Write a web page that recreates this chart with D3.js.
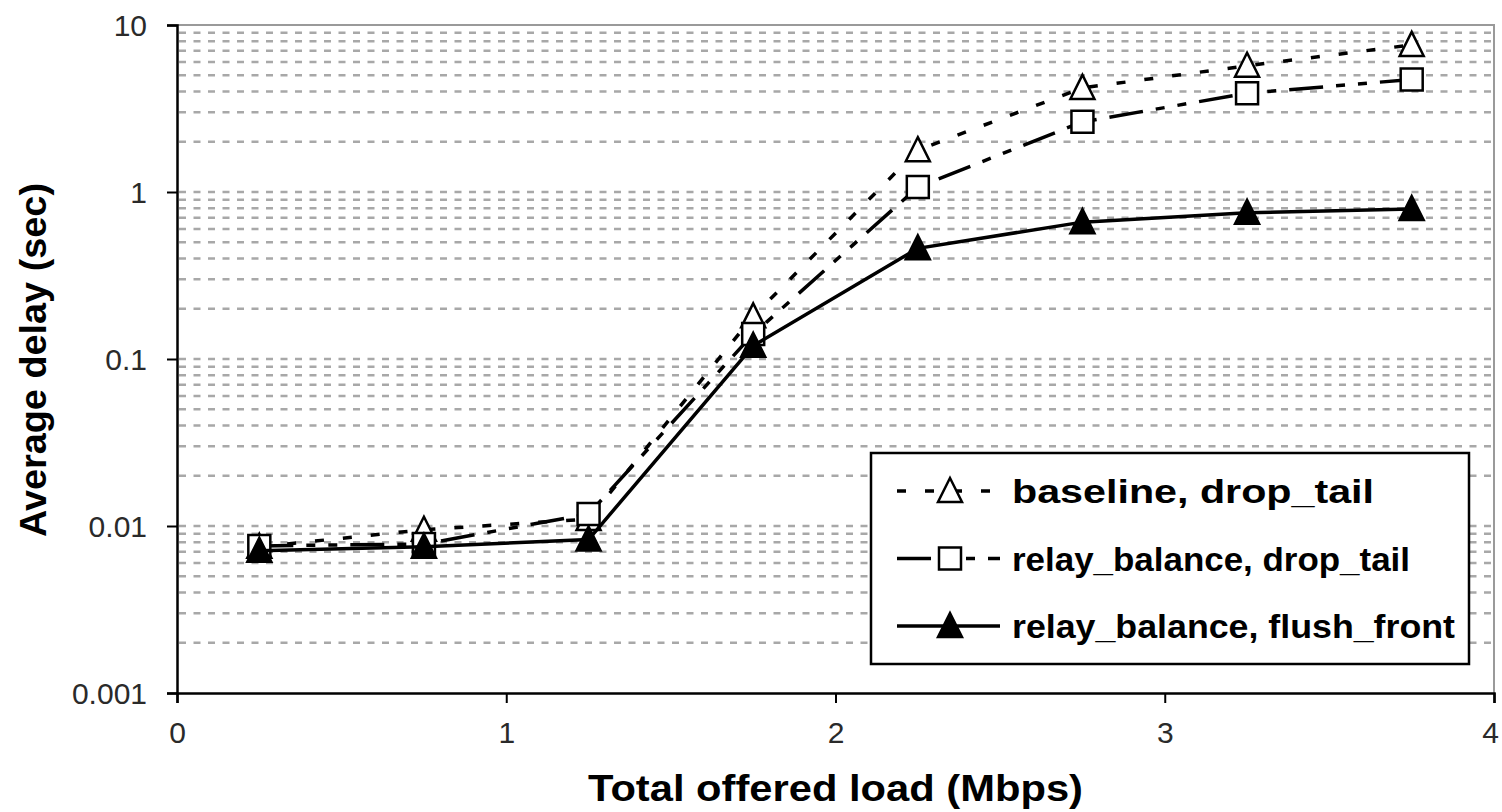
<!DOCTYPE html>
<html>
<head>
<meta charset="utf-8">
<script src="https://cdn.jsdelivr.net/npm/d3@7"></script>
<style>
  body { margin: 0; background: #fff; }
  svg { display: block; font-family: "Liberation Sans", Arial, sans-serif; }
</style>
</head>
<body>
<div id="chart"></div>
<script>

// Offered load (Mbps)
var loads = [0.25, 0.75, 1.25, 1.75, 2.25, 2.75, 3.25, 3.75];

// Average delay (sec) per scheme
var baselineDropTail     = [0.0075, 0.0095, 0.011, 0.18, 1.78, 4.2, 5.7, 7.6];
var relayBalanceDropTail = [0.0076, 0.0078, 0.0118, 0.141, 1.07, 2.63, 3.9, 4.72];
var relayBalanceFlush    = [0.0071, 0.0075, 0.0083, 0.12, 0.46, 0.66, 0.75, 0.79];

var seriesNames = ['baseline, drop_tail', 'relay_balance, drop_tail', 'relay_balance, flush_front'];

var xTicks = [0, 1, 2, 3, 4];
var yTicks = [0.001, 0.01, 0.1, 1, 10];
var yTickLabels = ['0.001', '0.01', '0.1', '1', '10'];

var xTitle = 'Total offered load (Mbps)',
    yTitle = 'Average delay (sec)';

var width = 1502,
    height = 812,
    margin = {top: 25, right: 8, bottom: 119, left: 177},
    innerW = width - margin.left - margin.right,
    innerH = height - margin.top - margin.bottom;

var svg = d3.select( '#chart' ).append( 'svg' )
    .attr( 'width', width )
    .attr( 'height', height );

var g = svg.append( 'g' )
    .attr( 'transform', 'translate(' + margin.left + ',' + margin.top + ')' );

var xScale = d3.scaleLinear().domain( [0, 4] ).range( [0, innerW] ),
    yScale = d3.scaleLog().domain( [0.001, 10] ).range( [innerH, 0] );

// Grid lines at every 1..9 multiple of each decade
var gridValues = [];
yTicks.slice( 0, -1 ).forEach( function ( dec ) {
    for ( var k = 1; k <= 9; k++ ) gridValues.push( dec * k );
});
gridValues = gridValues.filter( function ( v ) { return v > 0.001; } );

g.append( 'g' ).selectAll( 'line' )
    .data( gridValues )
    .enter().append( 'line' )
    .attr( 'x1', 2 )
    .attr( 'x2', innerW )
    .attr( 'y1', function ( d ) { return yScale( d ); } )
    .attr( 'y2', function ( d ) { return yScale( d ); } )
    .style( 'stroke', '#a8a8a8' )
    .style( 'stroke-width', 2.5 )
    .style( 'stroke-dasharray', '7,7.5' );

// Frame: top and right in gray
g.append( 'path' )
    .attr( 'd', 'M0,0H' + innerW + 'V' + innerH )
    .style( 'fill', 'none' )
    .style( 'stroke', '#9a9a9a' )
    .style( 'stroke-width', 2 );

// Axes
var xAxis = d3.axisBottom( xScale ).tickValues( xTicks ).tickSize( 10 ).tickPadding( 19 ).tickFormat( d3.format( 'd' ) ),
    yAxis = d3.axisLeft( yScale ).tickValues( yTicks ).tickSize( 10 ).tickPadding( 20 )
        .tickFormat( function ( d, i ) { return yTickLabels[i]; } );

var gx = g.append( 'g' )
    .attr( 'transform', 'translate(0,' + innerH + ')' )
    .call( xAxis );

var gy = g.append( 'g' )
    .call( yAxis );

[gx, gy].forEach( function ( ax ) {
    ax.select( '.domain' ).style( 'stroke', '#000' ).style( 'stroke-width', 2.5 );
    ax.selectAll( '.tick line' ).style( 'stroke', '#000' ).style( 'stroke-width', 2 );
    ax.selectAll( '.tick text' )
      .style( 'font-family', '"Liberation Sans", Arial, sans-serif' )
      .style( 'font-size', '30px' )
      .style( 'fill', '#2a2a2a' );
});
gy.selectAll( '.tick text' ).attr( 'dy', '0.36em' );
// keep the last x label inside the picture
gx.selectAll( '.tick text' ).filter( function ( d ) { return d === 4; } ).attr( 'dx', -4 );

// Axis titles
svg.append( 'text' )
    .attr( 'x', margin.left + xScale( 2 ) )
    .attr( 'y', 801 )
    .attr( 'text-anchor', 'middle' )
    .attr( 'textLength', 495 )
    .attr( 'lengthAdjust', 'spacingAndGlyphs' )
    .style( 'font-size', '36px' )
    .style( 'font-weight', 'bold' )
    .text( xTitle );

svg.append( 'text' )
    .attr( 'transform', 'translate(46,' + 360 + ') rotate(-90)' )
    .attr( 'text-anchor', 'middle' )
    .attr( 'textLength', 354 )
    .attr( 'lengthAdjust', 'spacingAndGlyphs' )
    .style( 'font-size', '36px' )
    .style( 'font-weight', 'bold' )
    .text( yTitle );

// Series
var series = [
    { name: seriesNames[0], values: baselineDropTail, dash: '9,19', marker: 'triangle', fill: '#fff' },
    { name: seriesNames[1], values: relayBalanceDropTail, dash: '34,13,9,13,9,13', marker: 'square', fill: '#fff' },
    { name: seriesNames[2], values: relayBalanceFlush, dash: null, marker: 'triangle', fill: '#000' }
];

function markerPath ( type ) {
    if ( type === 'square' ) return 'M-11,-11H11V11H-11Z';
    return 'M0,-13L12,11H-12Z';
}

var line = d3.line()
    .x( function ( d ) { return xScale( d[0] ); } )
    .y( function ( d ) { return yScale( d[1] ); } );

series.forEach( function ( s ) {
    var pts = loads.map( function ( x, i ) { return [x, s.values[i]]; } );

    g.append( 'path' )
        .datum( pts )
        .attr( 'd', line )
        .style( 'fill', 'none' )
        .style( 'stroke', '#000' )
        .style( 'stroke-width', 3.5 )
        .style( 'stroke-dasharray', s.dash );

    g.append( 'g' ).selectAll( 'path' )
        .data( pts )
        .enter().append( 'path' )
        .attr( 'transform', function ( d ) { return 'translate(' + xScale( d[0] ) + ',' + yScale( d[1] ) + ')'; } )
        .attr( 'd', markerPath( s.marker ) )
        .style( 'fill', s.fill )
        .style( 'stroke', '#000' )
        .style( 'stroke-width', 2.5 );
});

// Legend
var legend = svg.append( 'g' )
    .attr( 'transform', 'translate(871,453)' );

legend.append( 'rect' )
    .attr( 'width', 598 )
    .attr( 'height', 211 )
    .style( 'fill', '#fff' )
    .style( 'stroke', '#000' )
    .style( 'stroke-width', 2.5 );

var item = legend.selectAll( '.item' )
    .data( series )
    .enter().append( 'g' )
    .attr( 'class', 'item' )
    .attr( 'transform', function ( d, i ) { return 'translate(0,' + ( 38 + i * 67.5 ) + ')'; } );

item.append( 'line' )
    .attr( 'x1', 26 )
    .attr( 'x2', 129 )
    .style( 'stroke', '#000' )
    .style( 'stroke-width', 3.5 )
    .style( 'stroke-dasharray', function ( d ) { return d.dash; } );

item.append( 'path' )
    .attr( 'transform', 'translate(79,0)' )
    .attr( 'd', function ( d ) { return markerPath( d.marker ); } )
    .style( 'fill', function ( d ) { return d.fill; } )
    .style( 'stroke', '#000' )
    .style( 'stroke-width', 2.5 );

item.append( 'text' )
    .attr( 'x', 141 )
    .attr( 'dy', '0.36em' )
    .attr( 'textLength', function ( d, i ) { return [362, 398, 443][i]; } )
    .attr( 'lengthAdjust', 'spacingAndGlyphs' )
    .style( 'font-size', '34px' )
    .style( 'font-weight', 'bold' )
    .text( function ( d ) { return d.name; } );

</script>
</body>
</html>
